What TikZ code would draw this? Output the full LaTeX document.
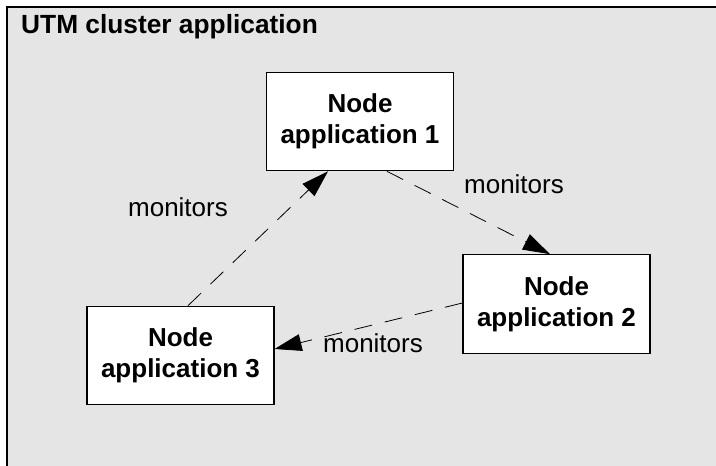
\documentclass[tikz,border=0pt]{standalone}
\usepackage{fontspec}
\setmainfont{Liberation Sans}
\usetikzlibrary{arrows.meta}
\definecolor{utmgray}{RGB}{229,229,229}

\begin{document}
\begin{tikzpicture}[x=1pt, y=-1pt,
  appbox/.style={draw=black, line width=1.2pt, fill=white, minimum width=187pt, minimum height=98.5pt, inner sep=0pt, align=center, font=\fontsize{26}{31}\selectfont\bfseries},
  monlabel/.style={font=\fontsize{26}{31}\selectfont, inner sep=0pt},
  monarrow/.style={dash pattern=on 18pt off 13pt, line width=0.8pt, -{Triangle[length=27pt,width=17pt]}}]
  \useasboundingbox (0,0) rectangle (716,466);

  % Cluster frame
  \fill[utmgray] (7,7) rectangle (716,466);
  \draw[line width=1.5pt] (7,466) -- (7,7) -- (716,7);
  \node[anchor=base west, inner sep=0pt, font=\fontsize{26.3}{31}\selectfont\bfseries] (title) at (21,33) {UTM cluster application};

  % Node applications
  \node[appbox] (app1) at (360,121.5) {Node\\application 1};
  \node[appbox] (app2) at (556.5,304) {Node\\application 2};
  \node[appbox] (app3) at (180.5,355.5) {Node\\application 3};

  % Monitoring
  \draw[monarrow] ([xshift=7.5pt]app3.north) -- ([xshift=-32pt]app1.south);
  \draw[monarrow] ([xshift=27pt]app1.south) -- ([xshift=-6.5pt]app2.north);
  \draw[monarrow] ([yshift=1pt]app2.west) -- ([yshift=6.5pt]app3.east);
  \node[monlabel] (mon31) at (178,207) {monitors};
  \node[monlabel] (mon12) at (514,184) {monitors};
  \node[monlabel] (mon23) at (373,343) {monitors};
\end{tikzpicture}
\end{document}
